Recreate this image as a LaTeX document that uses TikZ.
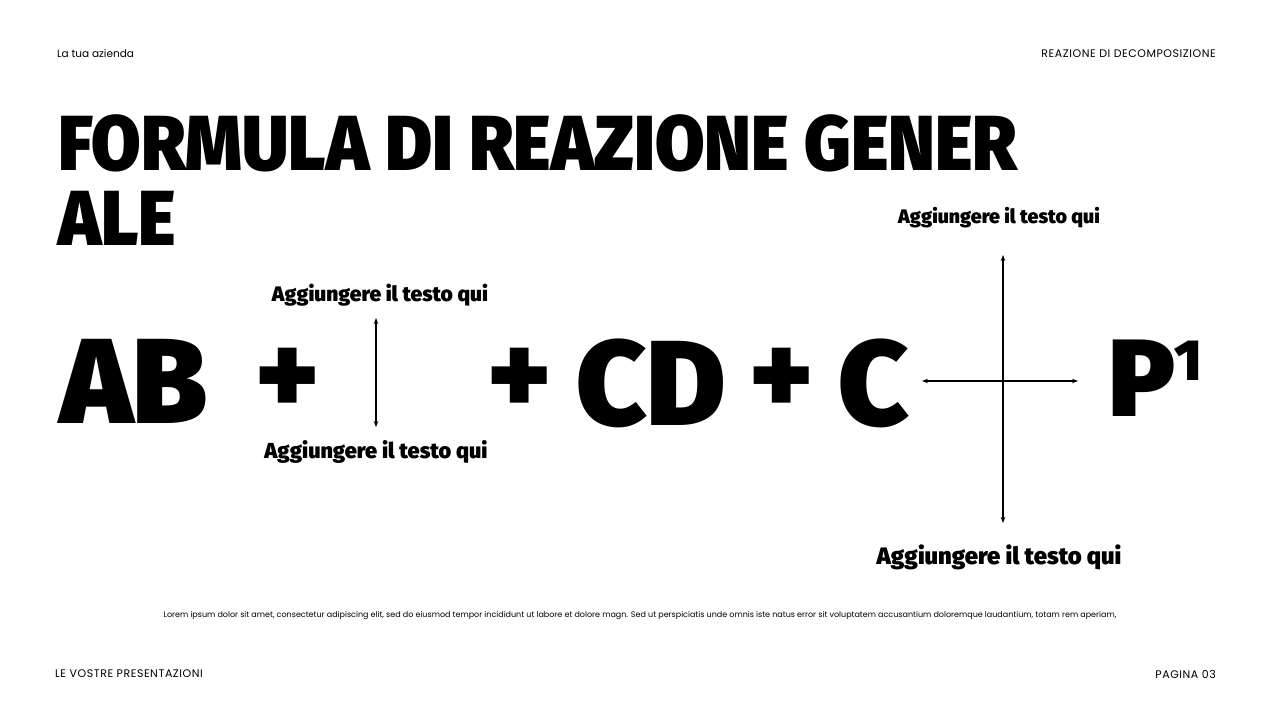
\documentclass[tikz,border=0pt]{standalone}
\usepackage{fontspec}
\setmainfont{Poppins}
\newfontfamily\heavyfont{Fira Sans Black}
\newfontfamily\titlefont{Fira Sans Black}[FakeStretch=0.92]
\usetikzlibrary{arrows.meta}

\begin{document}
\begin{tikzpicture}[x=1pt, y=-1pt,
  smalltext/.style={font=\fontsize{10.5}{10.5}\selectfont, inner sep=0pt},
  captext/.style={font=\fontsize{11}{11}\selectfont\addfontfeatures{LetterSpace=5}, inner sep=0pt},
  titletext/.style={font=\titlefont\fontsize{78}{78}\selectfont, inner sep=0pt, anchor=base west},
  formula/.style={font=\heavyfont\fontsize{121}{121}\selectfont, inner sep=0pt, anchor=base west},
  plussign/.style={font=\heavyfont\fontsize{117}{117}\selectfont, inner sep=0pt},
  notelabel/.style={font=\heavyfont\fontsize{21}{21}\selectfont, inner sep=0pt},
  twoway/.style={line width=1.6pt, {Stealth[length=6pt,width=4.5pt]}-{Stealth[length=6pt,width=4.5pt]}}]
  \useasboundingbox (0,0) rectangle (1280,720);

  % Header line
  \node[smalltext, anchor=west] (company) at (57,54) {La tua azienda};
  \node[captext, anchor=east] (topic) at (1216,54) {REAZIONE DI DECOMPOSIZIONE};

  % Title
  \node[titletext] (title1) at (58,170) {FORMULA DI REAZIONE GENER};
  \node[titletext] (title2) at (58,245) {ALE};

  % Reaction terms
  \node[formula] (ab) at (60,423) {AB};
  \node[plussign] (plus1) at (288,381) {+};
  \node[plussign] (plus2) at (520,381) {+};
  \node[formula] (cd) at (576,425) {CD};
  \node[plussign] (plus3) at (782,381) {+};
  \node[formula] (c) at (838,425) {C};
  \node[formula, font=\heavyfont\fontsize{110}{110}\selectfont] (p) at (1108,416) {P};
  \node[font=\heavyfont\fontsize{58}{58}\selectfont, inner sep=0pt, anchor=base west] (pexp) at (1174,380) {1};

  % Small double arrow after the first plus
  \coordinate (vtop) at (376,318);
  \coordinate (vbot) at (376,427);
  \draw[twoway] (vtop) -- (vbot);
  \node[notelabel] (uplabel) at (380,295) {Aggiungere il testo qui};
  \node[notelabel, font=\heavyfont\fontsize{21.7}{21.7}\selectfont] (lowlabel) at (376,452) {Aggiungere il testo qui};

  % Cross of arrows before the product
  \coordinate (crossleft) at (922,381);
  \coordinate (crossright) at (1078,381);
  \coordinate (crosstop) at (1003,255);
  \coordinate (crossbot) at (1003,523);
  \draw[twoway] (crossleft) -- (crossright);
  \draw[twoway] (crosstop) -- (crossbot);
  \node[notelabel, font=\heavyfont\fontsize{19.6}{19.6}\selectfont] (crosstoplabel) at (999,218) {Aggiungere il testo qui};
  \node[notelabel, font=\heavyfont\fontsize{23.8}{23.8}\selectfont] (crossbotlabel) at (999,557) {Aggiungere il testo qui};

  % Body text
  \node[smalltext, font=\fontsize{8}{8}\selectfont] (body) at (640,616) {Lorem ipsum dolor sit amet, consectetur adipiscing elit, sed do eiusmod tempor incididunt ut labore et dolore magn. Sed ut perspiciatis unde omnis iste natus error sit voluptatem accusantium doloremque laudantium, totam rem aperiam,};

  % Footer
  \node[captext, anchor=west] (footleft) at (55,674) {LE VOSTRE PRESENTAZIONI};
  \node[captext, anchor=east] (footright) at (1216,674) {PAGINA 03};
\end{tikzpicture}
\end{document}
